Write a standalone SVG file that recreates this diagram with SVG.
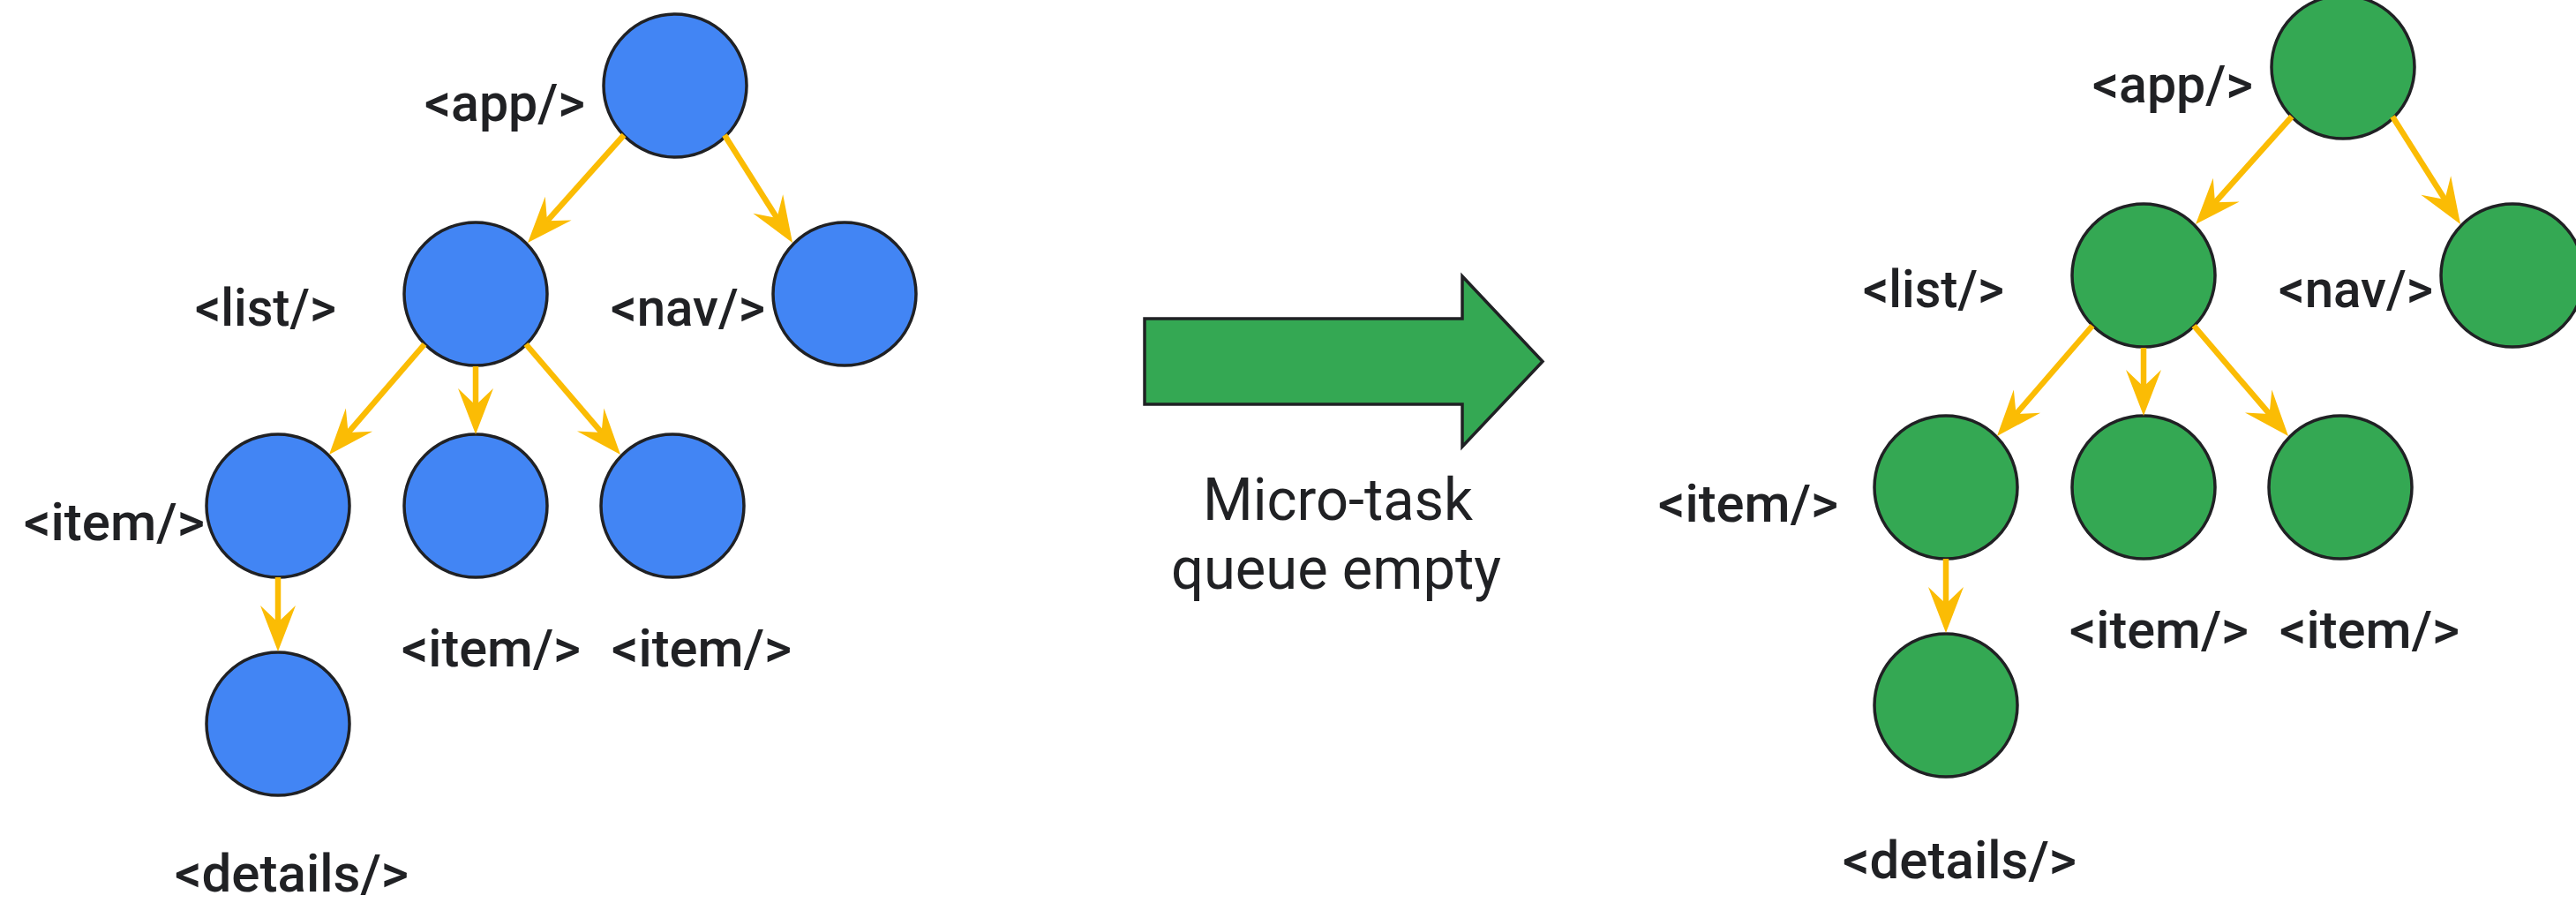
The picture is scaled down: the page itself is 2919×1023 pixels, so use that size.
<svg xmlns="http://www.w3.org/2000/svg" width="2919" height="1023" viewBox="0 0 2919 1023">
<style>
  .blue { fill: #4285F4; stroke: #202124; stroke-width: 3.5; }
  .green { fill: #34A853; stroke: #202124; stroke-width: 3.5; }
  .lbl { font-family: Roboto, "Liberation Sans", Arial, sans-serif; font-weight: 500; font-size: 59px; fill: #202124; }
  .cap { font-family: Roboto, "Liberation Sans", Arial, sans-serif; font-weight: 400; font-size: 66px; fill: #202124; }
  .edge { stroke: #FBBC04; stroke-width: 6.5; fill: none; marker-end: url(#ah); }
</style>
<defs>
  <marker id="ah" markerUnits="userSpaceOnUse" markerWidth="60" markerHeight="46" viewBox="-56 -23 60 46" refX="-30" refY="0" orient="auto">
    <path d="M0,0 L-52,-20 L-33,0 L-52,20 Z" fill="#FBBC04"/>
  </marker>
</defs>
<rect width="2919" height="1023" fill="#FFFFFF"/>

<g id="tree-before">
  <g id="b-app"><circle class="blue" cx="765" cy="97" r="81"/><text class="lbl" x="481" y="137" textLength="182" lengthAdjust="spacingAndGlyphs">&lt;app/&gt;</text></g>
  <g id="b-list"><circle class="blue" cx="539" cy="333" r="81"/><text class="lbl" x="221" y="369" textLength="160" lengthAdjust="spacingAndGlyphs">&lt;list/&gt;</text></g>
  <g id="b-nav"><circle class="blue" cx="957" cy="333" r="81"/><text class="lbl" x="692" y="369" textLength="175" lengthAdjust="spacingAndGlyphs">&lt;nav/&gt;</text></g>
  <g id="b-item1"><circle class="blue" cx="315" cy="573" r="81"/><text class="lbl" x="27" y="612" textLength="205" lengthAdjust="spacingAndGlyphs">&lt;item/&gt;</text></g>
  <g id="b-item2"><circle class="blue" cx="539" cy="573" r="81"/><text class="lbl" x="455" y="755" textLength="203" lengthAdjust="spacingAndGlyphs">&lt;item/&gt;</text></g>
  <g id="b-item3"><circle class="blue" cx="762" cy="573" r="81"/><text class="lbl" x="693" y="755" textLength="204" lengthAdjust="spacingAndGlyphs">&lt;item/&gt;</text></g>
  <g id="b-details"><circle class="blue" cx="315" cy="820" r="81"/><text class="lbl" x="198" y="1010" textLength="265" lengthAdjust="spacingAndGlyphs">&lt;details/&gt;</text></g>
  <g id="b-connectors">
    <line class="edge" x1="707" y1="153" x2="618" y2="252.6"/>
    <line class="edge" x1="821" y1="153" x2="882" y2="249.6"/>
    <line class="edge" x1="481" y1="390" x2="392.6" y2="492.3"/>
    <line class="edge" x1="539" y1="415" x2="539" y2="462"/>
    <line class="edge" x1="596" y1="390" x2="683.5" y2="492.2"/>
    <line class="edge" x1="315" y1="654" x2="315" y2="708"/>
  </g>
</g>

<g id="transition">
  <polygon points="1297,361 1657,361 1657,313 1748,409.5 1657,506 1657,458 1297,458" fill="#34A853" stroke="#202124" stroke-width="3.5" stroke-linejoin="miter"/>
  <text class="cap" x="1363" y="589" textLength="306" lengthAdjust="spacingAndGlyphs">Micro-task</text>
  <text class="cap" x="1327" y="667" textLength="374" lengthAdjust="spacingAndGlyphs">queue empty</text>
</g>

<g id="tree-after" transform="translate(1890,-21)">
  <g id="a-app"><circle class="green" cx="765" cy="97" r="81"/><text class="lbl" x="481" y="137" textLength="182" lengthAdjust="spacingAndGlyphs">&lt;app/&gt;</text></g>
  <g id="a-list"><circle class="green" cx="539" cy="333" r="81"/><text class="lbl" x="221" y="369" textLength="160" lengthAdjust="spacingAndGlyphs">&lt;list/&gt;</text></g>
  <g id="a-nav"><circle class="green" cx="957" cy="333" r="81"/><text class="lbl" x="692" y="369" textLength="175" lengthAdjust="spacingAndGlyphs">&lt;nav/&gt;</text></g>
  <g id="a-item1"><circle class="green" cx="315" cy="573" r="81"/><text class="lbl" x="-11" y="612" textLength="204" lengthAdjust="spacingAndGlyphs">&lt;item/&gt;</text></g>
  <g id="a-item2"><circle class="green" cx="539" cy="573" r="81"/><text class="lbl" x="455" y="755" textLength="203" lengthAdjust="spacingAndGlyphs">&lt;item/&gt;</text></g>
  <g id="a-item3"><circle class="green" cx="762" cy="573" r="81"/><text class="lbl" x="693" y="755" textLength="204" lengthAdjust="spacingAndGlyphs">&lt;item/&gt;</text></g>
  <g id="a-details"><circle class="green" cx="315" cy="820" r="81"/><text class="lbl" x="198" y="1016" textLength="265" lengthAdjust="spacingAndGlyphs">&lt;details/&gt;</text></g>
  <g id="a-connectors">
    <line class="edge" x1="707" y1="153" x2="618" y2="252.6"/>
    <line class="edge" x1="821" y1="153" x2="882" y2="249.6"/>
    <line class="edge" x1="481" y1="390" x2="392.6" y2="492.3"/>
    <line class="edge" x1="539" y1="415" x2="539" y2="462"/>
    <line class="edge" x1="596" y1="390" x2="683.5" y2="492.2"/>
    <line class="edge" x1="315" y1="654" x2="315" y2="708"/>
  </g>
</g>
</svg>
